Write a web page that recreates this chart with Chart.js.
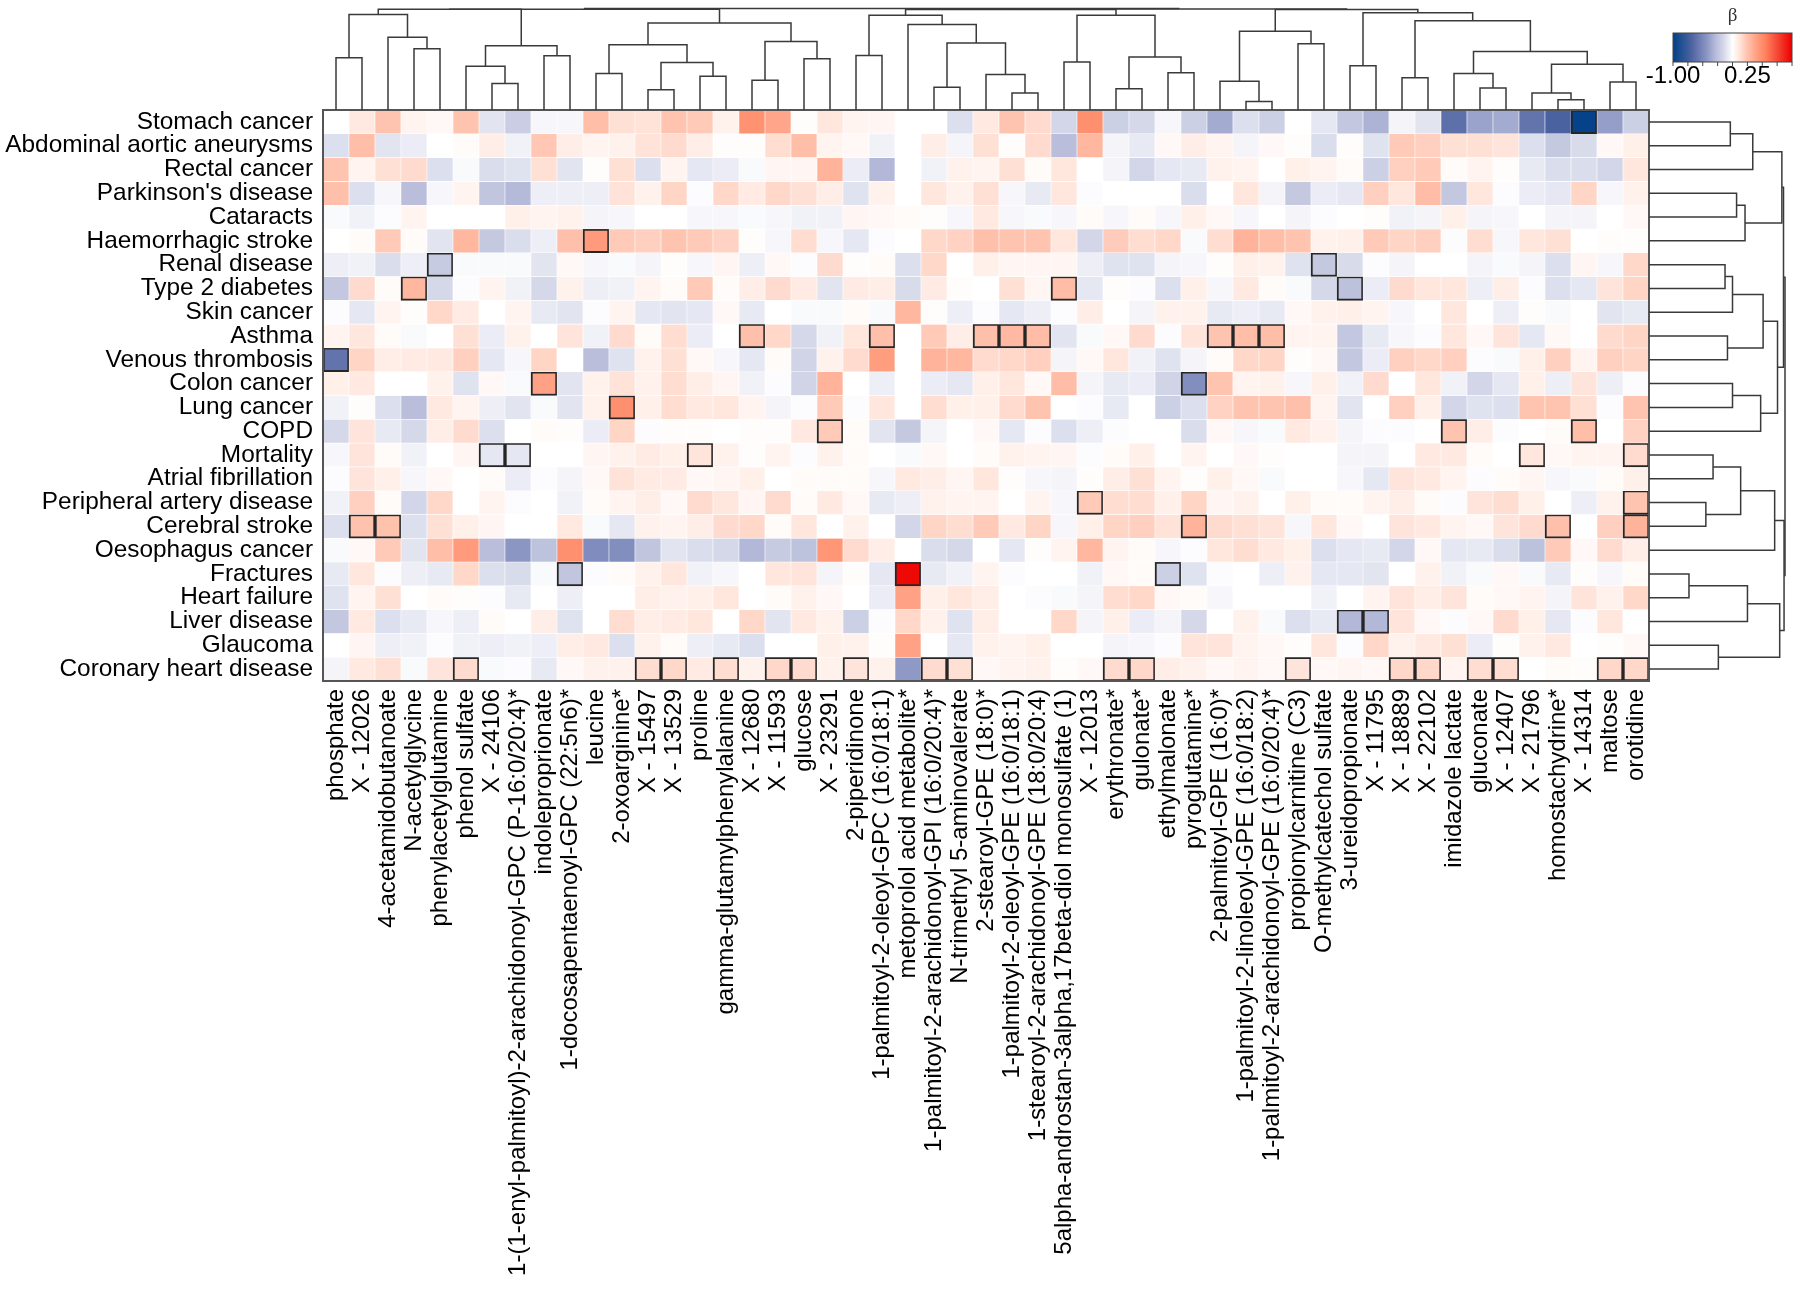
<!DOCTYPE html>
<html lang="en">
<head>
<meta charset="UTF-8">
<title>Metabolite - disease associations (β)</title>
<script src="https://cdn.jsdelivr.net/npm/chart.js"></script>
<style>
  html, body { margin: 0; padding: 0; background: #fff; }
  #wrap { width: 1800px; height: 1292px; }
</style>
</head>
<body>
<div id="wrap"><canvas id="heatmap"></canvas></div>
<script>
// outcomes (rows, top to bottom)
const rows = ['Stomach cancer', 'Abdominal aortic aneurysms', 'Rectal cancer', "Parkinson's disease",
  'Cataracts', 'Haemorrhagic stroke', 'Renal disease', 'Type 2 diabetes', 'Skin cancer', 'Asthma',
  'Venous thrombosis', 'Colon cancer', 'Lung cancer', 'COPD', 'Mortality', 'Atrial fibrillation',
  'Peripheral artery disease', 'Cerebral stroke', 'Oesophagus cancer', 'Fractures', 'Heart failure',
  'Liver disease', 'Glaucoma', 'Coronary heart disease'];

// metabolites (columns, left to right)
const cols = ['phosphate', 'X - 12026', '4-acetamidobutanoate', 'N-acetylglycine', 'phenylacetylglutamine',
  'phenol sulfate', 'X - 24106', '1-(1-enyl-palmitoyl)-2-arachidonoyl-GPC (P-16:0/20:4)*', 'indoleproprionate',
  '1-docosapentaenoyl-GPC (22:5n6)*', 'leucine', '2-oxoarginine*', 'X - 15497', 'X - 13529', 'proline',
  'gamma-glutamylphenylalanine', 'X - 12680', 'X - 11593', 'glucose', 'X - 23291', '2-piperidinone',
  '1-palmitoyl-2-oleoyl-GPC (16:0/18:1)', 'metoprolol acid metabolite*', '1-palmitoyl-2-arachidonoyl-GPI (16:0/20:4)*',
  'N-trimethyl 5-aminovalerate', '2-stearoyl-GPE (18:0)*', '1-palmitoyl-2-oleoyl-GPE (16:0/18:1)',
  '1-stearoyl-2-arachidonoyl-GPE (18:0/20:4)', '5alpha-androstan-3alpha,17beta-diol monosulfate (1)', 'X - 12013',
  'erythronate*', 'gulonate*', 'ethylmalonate', 'pyroglutamine*', '2-palmitoyl-GPE (16:0)*',
  '1-palmitoyl-2-linoleoyl-GPE (16:0/18:2)', '1-palmitoyl-2-arachidonoyl-GPE (16:0/20:4)*', 'propionylcarnitine (C3)',
  'O-methylcatechol sulfate', '3-ureidopropionate', 'X - 11795', 'X - 18889', 'X - 22102', 'imidazole lactate',
  'gluconate', 'X - 12407', 'X - 21796', 'homostachydrine*', 'X - 14314', 'maltose', 'orotidine'];

// beta, one line per outcome, one value per metabolite
const beta = [
  [0,0.1,0.24,0.05,0.03,0.24,-0.1,-0.2,-0.03,-0.03,0.27,0.14,0.13, 0.24,0.22,0.06,0.47,0.38,0.01,0.11,0.05,0.04,0,0,-0.12, 0.1,0.24,0.16,-0.16,0.48,-0.19,-0.15,-0.03,-0.19,-0.35,-0.12,-0.19,0, -0.09,-0.23,-0.32,-0.04,-0.1,-0.62,-0.38,-0.35,-0.6,-0.7,-0.98,-0.4,-0.19],
  [-0.12,0.27,-0.1,-0.07,0,0.02,0.08,-0.05,0.23,0.08,0.05,0.06,0.13, 0.16,0.08,0.01,0.01,0.15,0.27,0.05,0.03,-0.05,0,0.08,-0.04, 0.14,0.01,0.16,-0.27,0.3,-0.04,-0.08,0.03,0.08,0.05,-0.04,0.03,0.01, -0.13,0.01,-0.11,0.22,0.2,0.14,0.14,0.12,-0.12,-0.22,-0.14,0.03,0.07],
  [0.24,0.05,0.14,0.16,-0.12,-0.02,-0.13,-0.11,0.14,-0.1,0.01,0.14,-0.12, 0.05,-0.09,-0.07,-0.02,0.04,0.04,0.32,-0.07,-0.3,0,-0.05,0.06, 0.05,0.14,0.02,0.11,0,-0.04,-0.16,-0.09,-0.08,0.06,0.05,0,0.07, 0.05,0.02,-0.19,0.2,0.22,0.02,0.05,0.01,-0.08,-0.13,-0.13,-0.16,0.11],
  [0.26,-0.12,-0.03,-0.27,-0.03,0.05,-0.24,-0.29,-0.06,-0.06,-0.06,0.13,0.06, 0.18,-0.01,0.17,0.09,0.17,0.14,0.08,-0.11,0.06,0,0.11,0.06, 0.14,-0.03,-0.08,0.11,-0.01,0,0,0,-0.13,0,0.11,-0.04,-0.22, -0.07,-0.09,0.2,0.11,0.28,-0.23,0.11,-0.01,-0.07,-0.09,0.18,-0.03,0.06],
  [-0.02,-0.05,-0.01,0.05,0,0,0,0.07,0.05,0.06,-0.04,-0.03,0, 0,-0.03,-0.03,-0.02,-0.03,-0.05,-0.05,0.04,0.03,0.02,0.01,-0.03, 0.1,-0.03,-0.02,-0.03,0.02,-0.03,0.02,-0.03,0.07,0.03,-0.03,0,-0.04, -0.01,0,0.01,-0.05,-0.04,0.07,-0.04,-0.03,0,-0.04,-0.04,0,0.03],
  [0,0.02,0.22,0.02,-0.1,0.3,-0.22,-0.13,-0.06,0.26,0.43,0.22,0.2, 0.24,0.22,0.19,0.01,-0.03,0.15,-0.03,-0.09,-0.01,0,0.17,0.19, 0.26,0.24,0.24,0.11,-0.16,0.21,0.15,0.17,-0.02,0.15,0.32,0.27,0.24, 0.06,0.07,0.22,0.18,0.2,-0.01,0.15,-0.03,0.11,0.14,0,0.01,0.01],
  [-0.06,-0.05,-0.13,-0.06,-0.21,-0.02,-0.02,-0.02,-0.1,0.03,-0.03,-0.02,-0.04, 0.01,-0.03,0.04,-0.06,0.03,-0.01,0.16,0.01,0.02,-0.12,0.17,0, 0.07,0.04,0.04,0.04,-0.06,-0.11,-0.11,-0.04,-0.03,0.01,0.07,0.06,-0.11, -0.22,-0.14,-0.01,-0.04,0,0,-0.04,-0.02,-0.04,-0.12,0.04,-0.03,0.17],
  [-0.23,0.16,0.02,0.3,-0.15,-0.01,0.05,-0.05,-0.15,0.06,-0.06,-0.05,0.05, 0.02,0.22,0.02,0.08,0.16,0.09,-0.1,0.09,0.08,-0.14,0.09,0.01, 0,0.14,0.04,0.28,-0.09,0.01,-0.01,-0.12,0.07,-0.03,0.1,0.02,-0.02, -0.15,-0.26,-0.07,0.16,0.11,0.11,-0.06,0.08,-0.01,-0.12,-0.09,0.12,0.18],
  [-0.01,-0.09,0.05,0.01,0.17,0.09,0,0.05,-0.08,-0.1,-0.01,0.05,-0.09, -0.1,-0.09,0.03,-0.08,0,-0.02,-0.02,0.02,-0.02,0.3,0.01,-0.06, -0.01,-0.09,-0.06,-0.01,0.08,0,-0.04,0.06,0.06,-0.08,-0.06,-0.08,0.03, 0.06,0.07,0.05,-0.03,0,0.11,0,-0.06,0.01,-0.02,0,-0.1,-0.08],
  [0.05,0.11,0.02,-0.02,0,0.14,-0.07,0.06,0,0.12,-0.05,0.16,0.02, 0.15,-0.07,0,0.26,0.17,-0.15,-0.05,0.11,0.26,0,0.22,0.08, 0.26,0.29,0.28,-0.1,-0.02,0.03,0.16,-0.01,0.12,0.24,0.27,0.27,0.05, 0.05,-0.23,-0.08,-0.03,-0.01,0.11,0.03,0.12,-0.09,0.03,0,0.16,0.18],
  [-0.6,0.18,0.08,0.09,0.1,0.2,-0.09,-0.03,0.18,0,-0.27,-0.11,0.06, 0.14,0.03,-0.03,-0.09,0.02,-0.17,0.06,0.16,0.42,0,0.32,0.3, 0.16,0.17,0.2,-0.04,0.03,0.11,-0.05,-0.11,-0.04,0.02,0.17,0.18,0.01, 0.03,-0.23,-0.07,0.2,0.17,0.2,-0.01,-0.02,0.07,0.2,0.05,0.2,0.18],
  [0.07,0.1,0,0,0.06,-0.11,0.03,-0.02,0.4,-0.1,0.06,0.13,0.06, 0.15,0.08,0.04,-0.05,-0.01,-0.17,0.32,0,-0.06,0,-0.07,-0.09, 0.07,0.11,0.03,0.28,-0.04,-0.08,-0.07,-0.17,-0.47,0.24,0.05,0.06,-0.03, 0.07,-0.05,0.16,0,0.11,-0.05,-0.16,-0.09,0.07,-0.06,0.12,-0.06,-0.01],
  [-0.05,0.01,-0.12,-0.27,0.1,0.05,-0.06,-0.1,-0.02,-0.1,0.06,0.48,0.07, 0.15,0.1,0.11,0.05,-0.04,-0.01,0.22,-0.01,0.11,0,0.15,0.07, 0.07,0.16,0.24,0,-0.01,-0.08,0,-0.19,-0.12,0.19,0.24,0.24,0.26, 0.05,-0.1,0,0.2,0.07,-0.16,-0.11,-0.12,0.24,0.24,0.14,-0.01,0.24],
  [-0.15,0.12,-0.08,-0.15,0.08,0.16,-0.12,0,0.02,0.01,-0.07,0.18,-0.01, 0.01,0.01,0,0.01,0.01,0.1,0.22,0.02,-0.1,-0.22,-0.04,0, 0.03,-0.09,-0.01,-0.12,-0.06,-0.01,0,0,-0.13,0.03,-0.03,-0.02,0.1, 0.06,-0.04,-0.01,-0.01,0,0.24,0.08,-0.01,0,0.02,0.27,0,0.19],
  [-0.03,0.12,0.02,-0.05,0,0.04,-0.09,-0.09,0,0,0.04,0.06,0.09, 0.07,0.12,0.06,0.01,0.05,-0.01,0.06,0.02,0,-0.02,0.03,0, 0.02,0.06,0.05,0.04,-0.01,0.02,0.07,0,0.05,0,0.03,0.01,0, 0,-0.04,-0.04,0,0.1,0.1,0.02,0,0.11,0.03,0.05,0.05,0.16],
  [-0.01,0.12,0.07,-0.03,0.03,0,0.02,-0.07,-0.01,-0.04,0.03,0.13,0.09, 0.09,0.03,0.04,0.07,0,0.02,0.02,0.02,-0.03,0.1,0.08,0.04, 0.11,0.01,-0.03,-0.04,0.01,0.08,0.14,0.05,0.01,0.07,0.03,-0.02,0, 0,-0.03,-0.09,0.12,0.1,0.05,-0.01,0.02,0.04,-0.03,-0.02,0.02,0.07],
  [-0.05,0.2,0.02,-0.16,0.17,0,0.05,-0.01,0,-0.05,0.02,0.05,0.08, 0.03,0.16,0.11,0.04,0.16,0.02,0.1,0.03,-0.08,-0.06,0.06,0.05, 0.05,0,0.05,-0.03,0.22,0.15,0.15,0.07,0.18,0.04,0.06,0,0.07, 0.02,0.02,0.05,0.08,0.02,-0.01,0.12,0.15,0.07,0,-0.06,0.06,0.24],
  [-0.12,0.25,0.25,-0.12,0.14,0.07,0.04,0,0,0.1,-0.02,-0.09,0.06, 0.05,0.08,0.16,0.17,0.02,0.11,0,0.06,0,-0.16,0.18,0.15, 0.22,0.1,0.18,-0.03,0.07,0.18,0.2,0.13,0.32,0.16,0.14,0.12,-0.03, 0.11,0.03,0,0.12,0.1,0.05,0.03,0.12,0.16,0.26,0,0.2,0.32],
  [-0.02,0.03,0.22,-0.1,0.27,0.43,-0.27,-0.43,-0.25,0.48,-0.48,-0.47,-0.24, -0.1,-0.13,-0.15,-0.3,-0.21,-0.25,0.45,0.16,0.08,0,-0.13,-0.15, 0,-0.09,0.01,0.05,0.3,0.05,0.02,-0.03,-0.01,0.11,0.15,0.1,0.07, -0.12,-0.09,-0.08,-0.16,0.03,-0.09,-0.08,-0.13,-0.26,0.22,0.03,0.16,0.08],
  [-0.08,0.11,-0.01,-0.06,-0.08,0.17,-0.12,-0.14,-0.02,-0.24,-0.01,0.02,0.06, 0.11,-0.05,-0.03,0,0.11,0.12,-0.04,0.01,-0.09,0.97,-0.08,-0.05, 0.05,-0.01,0,0,-0.05,0.03,0.02,-0.19,-0.11,-0.01,0,-0.06,0.06, -0.09,-0.09,-0.1,0,0.06,-0.05,-0.02,0.03,-0.02,-0.08,0.01,-0.03,0.02],
  [-0.11,0.05,0.14,0,0.02,0.01,-0.01,-0.08,0,-0.06,0,0,0.08, 0.06,0.07,0.11,0,0.02,0.06,0.03,0,-0.07,0.4,0.07,0.11, 0.08,0,-0.01,-0.02,-0.04,0.15,0.17,0.03,0.02,-0.03,0,0,0, -0.05,0,0.05,0.12,0.08,0.12,0.02,0.03,0.05,-0.04,0.12,0.06,0.17],
  [-0.23,0.1,-0.12,-0.08,-0.03,-0.06,0.02,0,0.08,-0.11,0,0.15,0.08, 0.09,0.11,0,0.17,-0.1,0.1,0.06,-0.19,-0.01,0.17,0.06,-0.11, 0.08,0,0,0.17,-0.04,0.07,-0.07,-0.04,-0.15,0,0.06,-0.02,-0.12, -0.08,-0.3,-0.3,0.12,0.03,-0.01,0.03,0.16,0.07,-0.09,-0.01,0.11,0],
  [0,0.04,-0.06,-0.05,-0.01,-0.05,-0.06,-0.05,-0.06,0.08,0.1,-0.12,0.06, 0.02,-0.06,-0.08,-0.12,0,0,0.07,0.06,0.01,0.4,0,-0.09, 0.06,0.05,0.07,0,0,-0.04,-0.03,-0.01,0.12,0.12,0.05,0.03,0.01, 0.11,-0.01,0.17,0.06,0.1,0.14,-0.07,0.01,0.06,0.1,0,0.01,0.03],
  [-0.04,0.1,0.14,-0.02,0.12,0.16,-0.02,-0.01,-0.08,0.03,0.06,0.06,0.15, 0.17,0.09,0.15,0.06,0.17,0.16,0.06,0.12,0.06,-0.42,0.16,0.14, 0.03,0.05,0.06,0.01,0.03,0.16,0.17,0.08,0.06,0.03,0.05,0.03,0.12, 0.03,0.04,0.03,0.17,0.17,0.05,0.15,0.15,0,0.02,0.01,0.17,0.17]
];

// outlined (significant) cells: [row, column]
const sig = [[0,48],[5,10],[6,4],[6,38],[7,3],[7,28],[7,39],[9,16],[9,21],[9,25],[9,26],[9,27],[9,34],[9,35],[9,36],
  [10,0],[11,8],[11,33],[12,11],[13,19],[13,43],[13,48],[14,6],[14,7],[14,14],[14,46],[14,50],[16,29],[16,50],
  [17,1],[17,2],[17,33],[17,47],[17,50],[19,9],[19,22],[19,32],[21,39],[21,40],
  [23,5],[23,12],[23,13],[23,15],[23,17],[23,18],[23,20],[23,23],[23,24],[23,30],[23,31],[23,37],
  [23,41],[23,42],[23,44],[23,45],[23,49],[23,50]];

// column dendrogram: [left, right, height]; numbers are leaves, 'mK' is merge K
const colTree = [
  [0,1,0.515],[3,4,0.604],[2,'m1',0.716],['m0','m2',0.94],
  [6,7,0.26],[5,'m4',0.43],[8,9,0.535],['m5','m6',0.634],
  [10,11,0.36],[12,13,0.2],[14,15,0.333],['m9','m10',0.468],['m8','m11',0.644],
  [16,17,0.293],[18,19,0.505],['m13','m14',0.676],['m12','m15',0.858],
  ['m3','m7',0.992],['m17','m16',0.993],
  [20,21,0.538],[23,24,0.223],[26,27,0.167],[25,'m21',0.35],['m20','m22',0.66],[22,'m23',0.842],['m19','m24',0.934],
  [28,29,0.472],[30,31,0.21],[32,33,0.367],['m27','m28',0.522],['m26','m29',0.934],['m25','m30',0.99],
  [35,36,0.083],[34,'m32',0.283],[37,38,0.653],['m33','m34',0.775],
  [39,40,0.436],[41,42,0.317],[44,45,0.217],[43,'m38',0.36],[47,48,0.1],[46,'m40',0.167],[49,50,0.277],
  ['m41','m42',0.45],['m39','m43',0.577],['m37','m44',0.88],['m36','m45',0.957],
  ['m35','m46',0.99],['m31','m47',0.996],['m18','m48',1.0]
];

// row dendrogram
const rowTree = [
  [0,1,0.598],['m0',2,0.763],[3,4,0.644],['m2',5,0.706],['m1','m3',0.977],
  [6,7,0.559],['m5',8,0.614],[9,10,0.577],['m6','m7',0.839],[11,12,0.614],['m9',13,0.821],['m8','m10',0.945],
  [14,15,0.471],[16,17,0.418],['m12','m13',0.674],['m14',18,0.924],
  [19,20,0.294],['m16',21,0.724],[22,23,0.51],['m17','m18',0.961],['m15','m19',0.993],
  ['m4','m11',0.989],['m21','m20',1.0]
];

const legendTicks = [-1, -0.75, -0.5, -0.25, 0, 0.25, 0.5, 0.75, 1];
const legendLabels = [[-1, '-1.00'], [0.25, '0.25']];

const FONT = "'Liberation Sans', Arial, sans-serif";

// diverging colour scale, blue - white - red
const redStops = [[0,[255,255,255]],[0.14,[255,224,213]],[0.24,[255,196,176]],[0.32,[255,179,155]],
  [0.45,[255,150,118]],[0.55,[255,130,95]],[1,[235,0,0]]];
const blueStops = [[0,[255,255,255]],[0.06,[238,239,246]],[0.12,[220,223,237]],[0.22,[197,201,224]],
  [0.3,[179,184,216]],[0.43,[139,150,195]],[0.6,[99,116,173]],[0.7,[74,98,160]],[1,[0,64,136]]];

function colorFor(v) {
  const stops = v >= 0 ? redStops : blueStops;
  const a = Math.min(Math.abs(v), 1);
  for (let i = 1; i < stops.length; i++) {
    if (a <= stops[i][0]) {
      const [p0, c0] = stops[i - 1], [p1, c1] = stops[i];
      const t = (a - p0) / (p1 - p0);
      const c = c0.map((x, k) => Math.round(x + (c1[k] - x) * t));
      return `rgb(${c[0]},${c[1]},${c[2]})`;
    }
  }
  return 'rgb(235,0,0)';
}

const isSig = (r, c) => sig.some(s => s[0] === r && s[1] === c);

// one floating-bar dataset per outcome row
const datasets = rows.map((name, r) => ({
  label: name,
  data: cols.map(() => [r, r + 1]),
  backgroundColor: beta[r].map(colorFor),
  borderColor: beta[r].map((v, c) => isSig(r, c) ? '#262626' : '#ffffff'),
  borderWidth: beta[r].map((v, c) => isSig(r, c) ? 2 : 0.6),
  borderSkipped: false,
  grouped: false,
  barPercentage: 1,
  categoryPercentage: 1
}));

function drawTree(ctx, tree, leafPix, heightPix, vertical) {
  const nodes = [];
  const pos = n => typeof n === 'number' ? { p: leafPix(n), h: 0 } : nodes[+n.slice(1)];
  tree.forEach(([a, b, h]) => {
    const pa = pos(a), pb = pos(b);
    ctx.beginPath();
    if (vertical) {
      ctx.moveTo(pa.p, heightPix(pa.h)); ctx.lineTo(pa.p, heightPix(h));
      ctx.lineTo(pb.p, heightPix(h)); ctx.lineTo(pb.p, heightPix(pb.h));
    } else {
      ctx.moveTo(heightPix(pa.h), pa.p); ctx.lineTo(heightPix(h), pa.p);
      ctx.lineTo(heightPix(h), pb.p); ctx.lineTo(heightPix(pb.h), pb.p);
    }
    ctx.stroke();
    nodes.push({ p: (pa.p + pb.p) / 2, h });
  });
}

const extras = {
  id: 'extras',
  afterDatasetsDraw(chart) {
    const { ctx, chartArea: a, scales: { x, y } } = chart;
    ctx.save();
    // frame
    ctx.strokeStyle = '#555';
    ctx.lineWidth = 2;
    ctx.strokeRect(a.left, a.top, a.right - a.left, a.bottom - a.top);

    // dendrograms
    ctx.strokeStyle = '#3a3a3a';
    ctx.lineWidth = 1.5;
    drawTree(ctx, colTree, i => x.getPixelForValue(i), h => a.top - h * (a.top - 8.5), true);
    drawTree(ctx, rowTree, r => y.getPixelForValue(r + 0.5), h => a.right + h * 136, false);

    // colour bar
    const bx = 1673, bw = 119, by = 33, bh = 29;
    const grad = ctx.createLinearGradient(bx, 0, bx + bw, 0);
    for (let i = 0; i <= 40; i++) grad.addColorStop(i / 40, colorFor(-1 + i / 20));
    ctx.fillStyle = grad;
    ctx.fillRect(bx, by, bw, bh);
    ctx.strokeStyle = '#444';
    ctx.lineWidth = 1;
    ctx.strokeRect(bx, by, bw, bh);
    legendTicks.forEach(t => {
      const tx = bx + (t + 1) / 2 * bw;
      ctx.beginPath(); ctx.moveTo(tx, by + bh); ctx.lineTo(tx, by + bh + 4); ctx.stroke();
    });
    ctx.fillStyle = '#000';
    ctx.font = `24px ${FONT}`;
    ctx.textAlign = 'center';
    ctx.textBaseline = 'middle';
    legendLabels.forEach(([t, s]) => ctx.fillText(s, bx + (t + 1) / 2 * bw, 76));
    ctx.fillStyle = '#333';
    ctx.font = "19px 'Liberation Serif', 'DejaVu Serif', serif";
    ctx.fillText('β', bx + bw / 2, 16);
    ctx.restore();
  }
};

new Chart(document.getElementById('heatmap'), {
  type: 'bar',
  data: { labels: cols, datasets },
  plugins: [extras],
  options: {
    responsive: true,
    maintainAspectRatio: false,
    animation: false,
    layout: { padding: { top: 110, right: 151, left: 0, bottom: 0 } },
    plugins: { legend: { display: false }, tooltip: { enabled: false } },
    scales: {
      x: {
        type: 'category',
        grid: { display: false, drawTicks: false },
        border: { display: false },
        ticks: { autoSkip: false, maxRotation: 90, minRotation: 90, padding: 8, color: '#000',
                 font: { family: FONT, size: 24, lineHeight: 1 } },
        afterFit(s) { s.height = 611; }
      },
      y: {
        type: 'linear', min: 0, max: 24, reverse: true,
        grid: { display: false, drawTicks: false },
        border: { display: false },
        afterBuildTicks(s) { s.ticks = rows.map((_, i) => ({ value: i + 0.5 })); },
        ticks: { autoSkip: false, padding: 10, color: '#000',
                 font: { family: FONT, size: 24.4, lineHeight: 1 },
                 callback: v => rows[Math.floor(v)] },
        afterFit(s) { s.width = 323; }
      }
    }
  }
});
</script>
</body>
</html>
